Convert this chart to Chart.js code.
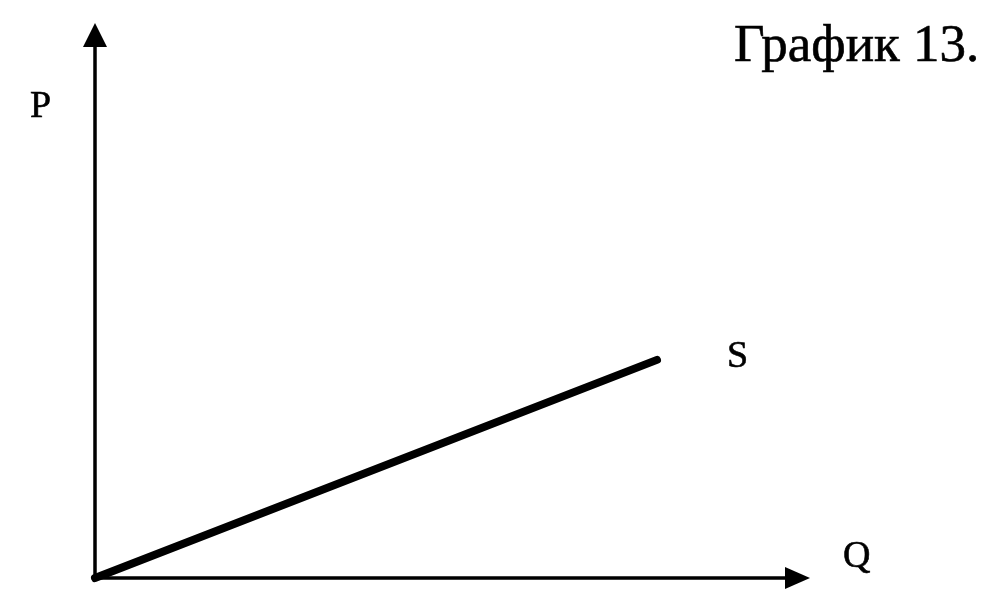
<!DOCTYPE html>
<html>
<head>
<meta charset="utf-8">
<script src="https://cdn.jsdelivr.net/npm/chart.js@4"></script>
<style>
  html, body { margin: 0; padding: 0; background: #fff; }
  #wrap { width: 989px; height: 612px; position: relative; }
</style>
</head>
<body>
<div id="wrap"><canvas id="graph"></canvas></div>
<script>
// supply line S: quantity vs price
const qValues = [0, 78.6];
const pValues = [0, 39.3];
const seriesLabel = 'S';
const xAxisLabel = 'Q';
const yAxisLabel = 'P';
const chartTitle = 'График 13.';

const serif = '"Liberation Serif", "Times New Roman", serif';

// draws the two axes with arrow heads and the letters
const axesPlugin = {
    id: 'axesPlugin',
    afterDatasetsDraw(chart) {
        const ctx = chart.ctx;
        const x = chart.scales.x, y = chart.scales.y;
        const x0 = x.getPixelForValue(0), y0 = y.getPixelForValue(0);
        const xEnd = x.getPixelForValue(x.max), yEnd = y.getPixelForValue(y.max);
        ctx.save();
        ctx.strokeStyle = '#000';
        ctx.fillStyle = '#000';
        ctx.lineWidth = 3.5;
        ctx.beginPath();
        ctx.moveTo(x0, y0);
        ctx.lineTo(x0, yEnd + 24);
        ctx.moveTo(x0, y0);
        ctx.lineTo(xEnd - 24, y0);
        ctx.stroke();
        // arrow heads
        ctx.beginPath();
        ctx.moveTo(x0, yEnd);
        ctx.lineTo(x0 - 12, yEnd + 24);
        ctx.lineTo(x0 + 12, yEnd + 24);
        ctx.closePath();
        ctx.fill();
        ctx.beginPath();
        ctx.moveTo(xEnd, y0);
        ctx.lineTo(xEnd - 25, y0 - 11);
        ctx.lineTo(xEnd - 25, y0 + 11);
        ctx.closePath();
        ctx.fill();

        // scanned print looks a bit heavier, so stroke the text too
        ctx.lineWidth = 0.6;
        ctx.textBaseline = 'alphabetic';
        const label = (t, px, py) => { ctx.fillText(t, px, py); ctx.strokeText(t, px, py); };
        ctx.font = '38px ' + serif;
        label(yAxisLabel, x0 - 65, yEnd + 94);
        label(xAxisLabel, xEnd + 33, y0 - 11);
        const last = qValues.length - 1;
        label(seriesLabel, x.getPixelForValue(qValues[last]) + 70, y.getPixelForValue(pValues[last]) + 7);
        ctx.font = '53px ' + serif;
        label(chartTitle, 734, 61);
        ctx.restore();
    }
};

document.addEventListener('DOMContentLoaded', function () {
    const ctx = document.getElementById('graph').getContext('2d');
    new Chart(ctx, {
        type: 'scatter',
        data: {
            datasets: [{
                label: seriesLabel,
                data: qValues.map((q, i) => ({ x: q, y: pValues[i] })),
                showLine: true,
                borderColor: '#000',
                borderWidth: 8,
                borderCapStyle: 'round',
                pointRadius: 0,
                clip: false
            }]
        },
        options: {
            responsive: true,
            maintainAspectRatio: false,
            animation: false,
            layout: { padding: { left: 95, right: 179, top: 23, bottom: 34 } },
            plugins: {
                legend: { display: false },
                tooltip: { enabled: false }
            },
            scales: {
                x: { type: 'linear', min: 0, max: 100, display: false },
                y: { type: 'linear', min: 0, max: 100, display: false }
            }
        },
        plugins: [axesPlugin]
    });
});
</script>
</body>
</html>
